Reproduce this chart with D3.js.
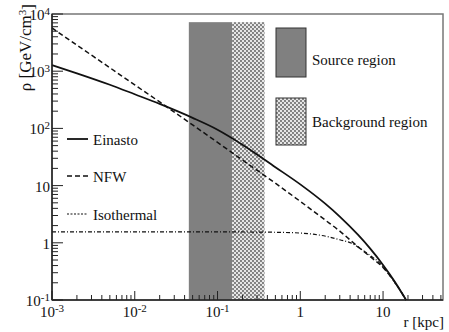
<!DOCTYPE html>
<html>
<head>
<meta charset="utf-8">
<script src="https://cdn.jsdelivr.net/npm/d3@7"></script>
<style>
  body { margin: 0; background: #fff; }
  text { font-family: "Liberation Serif", "DejaVu Serif", serif; fill: #111; }
</style>
</head>
<body>
<div id="chart"></div>
<script>
// profile data, r in kpc, rho in GeV/cm^3
const einastoR   = [0.001, 0.002, 0.005, 0.01, 0.02, 0.05, 0.1, 0.2, 0.5, 1, 2, 3, 5, 7, 10, 14, 19];
const einastoRho = [1280, 920, 580, 395, 268, 153, 95, 52, 21, 10.5, 4.83, 2.87, 1.37, 0.79, 0.41, 0.205, 0.1];

const nfwR   = [0.001, 0.002, 0.005, 0.01, 0.02, 0.05, 0.1, 0.2, 0.5, 1, 2, 3, 5, 7, 10, 14, 19];
const nfwRho = [5700, 2850, 1150, 575, 290, 115, 57, 28, 11, 5.3, 2.5, 1.6, 0.85, 0.57, 0.37, 0.2, 0.1];

const isoR   = [0.001, 0.01, 0.1, 0.3, 0.6, 1, 1.5, 2.2, 3, 4.2, 5.5, 7, 9, 12, 15, 19];
const isoRho = [1.55, 1.55, 1.55, 1.54, 1.52, 1.48, 1.4, 1.27, 1.13, 0.98, 0.77, 0.6, 0.45, 0.27, 0.17, 0.1];

const seriesNames = ["Einasto", "NFW", "Isothermal"];

// shaded regions in r
const sourceRegion = [0.045, 0.15];
const backgroundRegion = [0.15, 0.37];
const regionTop = 7200;

const xTickVals = [0.001, 0.01, 0.1, 1, 10];
const xTickLabels = [["10", "-3"], ["10", "-2"], ["10", "-1"], ["1", ""], ["10", ""]];
const yTickVals = [0.1, 1, 10, 100, 1000, 10000];
const yTickLabels = [["10", "-1"], ["1", ""], ["10", ""], ["10", "2"], ["10", "3"], ["10", "4"]];

const width = 449, height = 332;
const margin = { top: 14, right: 6, bottom: 32, left: 52 };

const svg = d3.select("#chart")
    .append("svg")
    .attr("width", width)
    .attr("height", height);

const x = d3.scaleLog()
    .domain([0.001, 53])
    .range([margin.left, width - margin.right]);

const y = d3.scaleLog()
    .domain([0.1, 10000])
    .range([height - margin.bottom, margin.top]);

// dot pattern for background region
const defs = svg.append("defs");
const pat = defs.append("pattern")
    .attr("id", "dots")
    .attr("patternUnits", "userSpaceOnUse")
    .attr("width", 4)
    .attr("height", 4);
pat.append("rect").attr("width", 4).attr("height", 4).attr("fill", "#e6e6e6");
pat.append("circle").attr("cx", 1).attr("cy", 1).attr("r", 0.9).attr("fill", "#555");
pat.append("circle").attr("cx", 3).attr("cy", 3).attr("r", 0.9).attr("fill", "#555");

// regions
svg.append("rect")
    .attr("x", x(sourceRegion[0]))
    .attr("y", y(regionTop))
    .attr("width", x(sourceRegion[1]) - x(sourceRegion[0]))
    .attr("height", y(0.1) - y(regionTop))
    .attr("fill", "#808080");

svg.append("rect")
    .attr("x", x(backgroundRegion[0]))
    .attr("y", y(regionTop))
    .attr("width", x(backgroundRegion[1]) - x(backgroundRegion[0]))
    .attr("height", y(0.1) - y(regionTop))
    .attr("fill", "url(#dots)");

// frame
svg.append("rect")
    .attr("x", margin.left)
    .attr("y", margin.top)
    .attr("width", width - margin.right - margin.left)
    .attr("height", height - margin.bottom - margin.top)
    .attr("fill", "none")
    .attr("stroke", "#777")
    .attr("stroke-width", 1.5);

// curves
const styles = [
    { dash: null, w: 1.8 },
    { dash: "5,3", w: 1.5 },
    { dash: "4,2,1,2", w: 1.2 }
];
const series = [
    einastoR.map((r, i) => [r, einastoRho[i]]),
    nfwR.map((r, i) => [r, nfwRho[i]]),
    isoR.map((r, i) => [r, isoRho[i]])
];
const line = d3.line()
    .x(d => x(d[0]))
    .y(d => y(d[1]))
    .curve(d3.curveMonotoneX);

series.forEach((s, i) => {
    svg.append("path")
        .datum(s)
        .attr("d", line)
        .attr("fill", "none")
        .attr("stroke", "#111")
        .attr("stroke-width", styles[i].w)
        .attr("stroke-dasharray", styles[i].dash);
});

// axes lines
svg.append("line")
    .attr("x1", margin.left).attr("x2", margin.left)
    .attr("y1", margin.top).attr("y2", height - margin.bottom)
    .attr("stroke", "#222").attr("stroke-width", 1.5);
svg.append("line")
    .attr("x1", margin.left).attr("x2", width - margin.right)
    .attr("y1", height - margin.bottom).attr("y2", height - margin.bottom)
    .attr("stroke", "#222").attr("stroke-width", 1.5);

// ticks
const xMinor = [];
for (let e = -3; e <= 1; e++) for (let k = 2; k <= 9; k++) {
    const v = k * Math.pow(10, e);
    if (v < 53) xMinor.push(v);
}
const yMinor = [];
for (let e = -1; e <= 3; e++) for (let k = 2; k <= 9; k++) yMinor.push(k * Math.pow(10, e));

const yb = height - margin.bottom;
svg.selectAll(".xmin").data(xMinor).enter().append("line")
    .attr("x1", d => x(d)).attr("x2", d => x(d))
    .attr("y1", yb).attr("y2", yb - 5)
    .attr("stroke", "#222");
svg.selectAll(".xmaj").data(xTickVals).enter().append("line")
    .attr("x1", d => x(d)).attr("x2", d => x(d))
    .attr("y1", yb).attr("y2", yb - 9)
    .attr("stroke", "#222");
svg.selectAll(".ymin").data(yMinor).enter().append("line")
    .attr("x1", margin.left).attr("x2", margin.left + 6)
    .attr("y1", d => y(d)).attr("y2", d => y(d))
    .attr("stroke", "#222");
svg.selectAll(".ymaj").data(yTickVals).enter().append("line")
    .attr("x1", margin.left).attr("x2", margin.left + 11)
    .attr("y1", d => y(d)).attr("y2", d => y(d))
    .attr("stroke", "#222");

// tick labels
function label(t, lab) {
    t.append("tspan").text(lab[0]);
    if (lab[1]) t.append("tspan").attr("dy", "-0.5em").style("font-size", "11px").text(lab[1]);
}
xTickVals.forEach((v, i) => {
    const t = svg.append("text")
        .attr("x", x(v))
        .attr("y", yb + 17)
        .attr("text-anchor", "middle")
        .style("font-size", "15px");
    label(t, xTickLabels[i]);
});
yTickVals.forEach((v, i) => {
    const t = svg.append("text")
        .attr("x", margin.left - 2)
        .attr("y", y(v) + 6)
        .attr("text-anchor", "end")
        .style("font-size", "15px");
    label(t, yTickLabels[i]);
});

// axis titles
svg.append("text")
    .attr("x", width - 5)
    .attr("y", height - 5)
    .attr("text-anchor", "end")
    .style("font-size", "15px")
    .text("r [kpc]");

const yt = svg.append("text")
    .attr("transform", "translate(31,4) rotate(-90)")
    .attr("text-anchor", "end")
    .style("font-size", "17px");
yt.append("tspan").text("ρ [GeV/cm");
yt.append("tspan").attr("dy", "-0.5em").style("font-size", "11px").text("3");
yt.append("tspan").attr("dy", "0.5em").text("]");

// curve legend
const legY = [139, 176, 214];
seriesNames.forEach((n, i) => {
    svg.append("line")
        .attr("x1", 67).attr("x2", 88)
        .attr("y1", legY[i]).attr("y2", legY[i])
        .attr("stroke", "#111")
        .attr("stroke-width", styles[i].w)
        .attr("stroke-dasharray", i === 2 ? "2,1.5" : styles[i].dash);
    svg.append("text")
        .attr("x", 93)
        .attr("y", legY[i] + 6)
        .style("font-size", "15px")
        .text(n);
});

// region legend
svg.append("rect")
    .attr("x", 276).attr("y", 28).attr("width", 30).attr("height", 49)
    .attr("fill", "#808080").attr("stroke", "#333");
svg.append("text")
    .attr("x", 312).attr("y", 65)
    .style("font-size", "15px")
    .text("Source region");
svg.append("rect")
    .attr("x", 276).attr("y", 98).attr("width", 30).attr("height", 47)
    .attr("fill", "url(#dots)").attr("stroke", "#333");
svg.append("text")
    .attr("x", 312).attr("y", 127)
    .style("font-size", "15px")
    .text("Background region");
</script>
</body>
</html>
